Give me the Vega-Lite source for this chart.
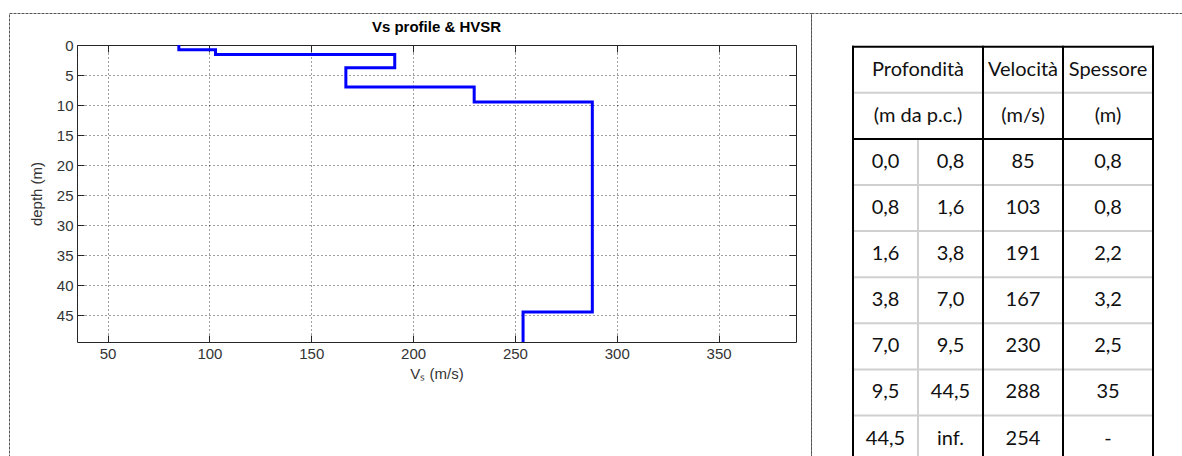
{
  "$schema": "https://vega.github.io/schema/vega-lite/v6.json",
  "background": "white",
  "padding": {"left": 8, "top": 12, "right": 0, "bottom": 0},
  "spacing": 0,
  "bounds": "flush",
  "config": {
    "view": {"stroke": "#555555", "strokeDash": [3, 1], "strokeWidth": 1}
  },
  "datasets": {
    "profilo": [
      {"ordine": 1, "vs": 85, "prof": 0},
      {"ordine": 2, "vs": 85, "prof": 0.8},
      {"ordine": 3, "vs": 103, "prof": 0.8},
      {"ordine": 4, "vs": 103, "prof": 1.6},
      {"ordine": 5, "vs": 191, "prof": 1.6},
      {"ordine": 6, "vs": 191, "prof": 3.8},
      {"ordine": 7, "vs": 167, "prof": 3.8},
      {"ordine": 8, "vs": 167, "prof": 7.0},
      {"ordine": 9, "vs": 230, "prof": 7.0},
      {"ordine": 10, "vs": 230, "prof": 9.5},
      {"ordine": 11, "vs": 288, "prof": 9.5},
      {"ordine": 12, "vs": 288, "prof": 44.5},
      {"ordine": 13, "vs": 254, "prof": 44.5},
      {"ordine": 14, "vs": 254, "prof": 49.5}
    ],
    "intestazione": [
      {"riga": 1, "prof": "Profondità", "vel": "Velocità", "spes": "Spessore"},
      {"riga": 2, "prof": "(m da p.c.)", "vel": "(m/s)", "spes": "(m)"}
    ],
    "strati": [
      {"riga": 3, "da": "0,0", "a": "0,8", "vs": "85", "sp": "0,8"},
      {"riga": 4, "da": "0,8", "a": "1,6", "vs": "103", "sp": "0,8"},
      {"riga": 5, "da": "1,6", "a": "3,8", "vs": "191", "sp": "2,2"},
      {"riga": 6, "da": "3,8", "a": "7,0", "vs": "167", "sp": "3,2"},
      {"riga": 7, "da": "7,0", "a": "9,5", "vs": "230", "sp": "2,5"},
      {"riga": 8, "da": "9,5", "a": "44,5", "vs": "288", "sp": "35"},
      {"riga": 9, "da": "44,5", "a": "inf.", "vs": "254", "sp": "-"}
    ]
  },
  "hconcat": [
    {
      "width": 802,
      "height": 460,
      "title": {
        "text": "Vs profile & HVSR",
        "frame": "group",
        "anchor": "middle",
        "dx": 26.5,
        "offset": -22,
        "font": "Liberation Sans",
        "fontSize": 15,
        "fontWeight": "bold",
        "color": "#000000"
      },
      "layer": [
        {
          "data": {"name": "profilo"},
          "mark": {"type": "line", "color": "#0000ff", "strokeWidth": 3, "clip": true, "strokeJoin": "miter"},
          "encoding": {
            "x": {
              "field": "vs", "type": "quantitative",
              "scale": {"domain": [35, 388], "range": [68, 787], "nice": false, "zero": false},
              "axis": {
                "orient": "bottom", "offset": -131,
                "values": [50, 100, 150, 200, 250, 300, 350],
                "grid": false,
                "domainColor": "#262626", "tickColor": "#262626", "tickSize": -7,
                "labelFont": "Liberation Sans", "labelFontSize": 15, "labelColor": "#333333",
                "labelPadding": 11, "labelFlush": false, "labelOverlap": false,
                "title": "Vₛ (m/s)", "titleFont": "Liberation Sans", "titleFontSize": 15,
                "titleFontWeight": "normal", "titleColor": "#333333", "titlePadding": 5
              }
            },
            "y": {
              "field": "prof", "type": "quantitative",
              "scale": {"domain": [0, 49.5], "range": [32, 329], "nice": false, "zero": false},
              "axis": {
                "orient": "left", "offset": -68,
                "values": [0, 5, 10, 15, 20, 25, 30, 35, 40, 45],
                "grid": true, "gridDash": [1, 3], "gridColor": "#000000", "gridOpacity": 0.75,
                "domainColor": "#262626", "tickColor": "#262626", "tickSize": -7,
                "labelFont": "Liberation Sans", "labelFontSize": 15, "labelColor": "#333333",
                "labelPadding": 11, "labelFlush": false, "labelOverlap": false,
                "title": "depth (m)", "titleFont": "Liberation Sans", "titleFontSize": 15,
                "titleFontWeight": "normal", "titleColor": "#333333", "titlePadding": 12
              }
            },
            "order": {"field": "ordine"}
          }
        },
        {
          "data": {"name": "profilo"},
          "mark": {"type": "point", "opacity": 0},
          "encoding": {
            "x": {
              "field": "vs", "type": "quantitative",
              "axis": {
                "orient": "top", "offset": -32,
                "values": [50, 100, 150, 200, 250, 300, 350],
                "grid": true, "gridDash": [1, 3], "gridColor": "#000000", "gridOpacity": 0.75,
                "labels": false, "title": null,
                "domainColor": "#262626", "tickColor": "#262626", "tickSize": -7
              }
            },
            "y": {
              "field": "prof", "type": "quantitative",
              "axis": {
                "orient": "right", "offset": -15,
                "values": [0, 5, 10, 15, 20, 25, 30, 35, 40, 45],
                "grid": false, "labels": false, "title": null,
                "domainColor": "#262626", "tickColor": "#262626", "tickSize": -7
              }
            }
          }
        }
      ],
      "resolve": {"axis": {"x": "independent", "y": "independent"}}
    },
    {
      "width": 390,
      "height": 460,
      "layer": [
        {
          "data": {"values": [{}]},
          "mark": {"type": "rule", "color": "#d0d0d0", "strokeWidth": 2},
          "encoding": {
            "x": {"datum": 0.5, "type": "quantitative", "axis": null,
                  "scale": {"domain": [0.5, 1.5, 2.5, 3.5, 4.5], "range": [42, 107, 172, 252, 342], "nice": false, "zero": false}},
            "x2": {"datum": 4.5},
            "y": {"datum": 1.5, "type": "quantitative", "axis": null,
                  "scale": {"domain": [0.5, 9.5], "range": [33.7, 448.6], "nice": false, "zero": false}}
          }
        },
        {
          "data": {"values": [{}]},
          "mark": {"type": "rule", "color": "#d0d0d0", "strokeWidth": 2},
          "encoding": {"x": {"datum": 0.5, "type": "quantitative", "axis": null}, "x2": {"datum": 4.5}, "y": {"datum": 3.5, "type": "quantitative", "axis": null}}
        },
        {
          "data": {"values": [{}]},
          "mark": {"type": "rule", "color": "#d0d0d0", "strokeWidth": 2},
          "encoding": {"x": {"datum": 0.5, "type": "quantitative", "axis": null}, "x2": {"datum": 4.5}, "y": {"datum": 4.5, "type": "quantitative", "axis": null}}
        },
        {
          "data": {"values": [{}]},
          "mark": {"type": "rule", "color": "#d0d0d0", "strokeWidth": 2},
          "encoding": {"x": {"datum": 0.5, "type": "quantitative", "axis": null}, "x2": {"datum": 4.5}, "y": {"datum": 5.5, "type": "quantitative", "axis": null}}
        },
        {
          "data": {"values": [{}]},
          "mark": {"type": "rule", "color": "#d0d0d0", "strokeWidth": 2},
          "encoding": {"x": {"datum": 0.5, "type": "quantitative", "axis": null}, "x2": {"datum": 4.5}, "y": {"datum": 6.5, "type": "quantitative", "axis": null}}
        },
        {
          "data": {"values": [{}]},
          "mark": {"type": "rule", "color": "#d0d0d0", "strokeWidth": 2},
          "encoding": {"x": {"datum": 0.5, "type": "quantitative", "axis": null}, "x2": {"datum": 4.5}, "y": {"datum": 7.5, "type": "quantitative", "axis": null}}
        },
        {
          "data": {"values": [{}]},
          "mark": {"type": "rule", "color": "#d0d0d0", "strokeWidth": 2},
          "encoding": {"x": {"datum": 0.5, "type": "quantitative", "axis": null}, "x2": {"datum": 4.5}, "y": {"datum": 8.5, "type": "quantitative", "axis": null}}
        },
        {
          "data": {"values": [{}]},
          "mark": {"type": "rule", "color": "#d0d0d0", "strokeWidth": 2},
          "encoding": {"x": {"datum": 1.5, "type": "quantitative", "axis": null}, "y": {"datum": 2.5, "type": "quantitative", "axis": null}, "y2": {"datum": 9.5}}
        },
        {
          "data": {"values": [{}]},
          "mark": {"type": "rule", "color": "#000000", "strokeWidth": 2, "strokeCap": "square"},
          "encoding": {"x": {"datum": 0.5, "type": "quantitative", "axis": null}, "x2": {"datum": 4.5}, "y": {"datum": 0.5, "type": "quantitative", "axis": null}}
        },
        {
          "data": {"values": [{}]},
          "mark": {"type": "rule", "color": "#000000", "strokeWidth": 2, "strokeCap": "square"},
          "encoding": {"x": {"datum": 0.5, "type": "quantitative", "axis": null}, "x2": {"datum": 4.5}, "y": {"datum": 2.5, "type": "quantitative", "axis": null}}
        },
        {
          "data": {"values": [{}]},
          "mark": {"type": "rule", "color": "#000000", "strokeWidth": 2, "strokeCap": "square"},
          "encoding": {"x": {"datum": 0.5, "type": "quantitative", "axis": null}, "y": {"datum": 0.5, "type": "quantitative", "axis": null}, "y2": {"datum": 9.5}}
        },
        {
          "data": {"values": [{}]},
          "mark": {"type": "rule", "color": "#000000", "strokeWidth": 2, "strokeCap": "square"},
          "encoding": {"x": {"datum": 2.5, "type": "quantitative", "axis": null}, "y": {"datum": 0.5, "type": "quantitative", "axis": null}, "y2": {"datum": 9.5}}
        },
        {
          "data": {"values": [{}]},
          "mark": {"type": "rule", "color": "#000000", "strokeWidth": 2, "strokeCap": "square"},
          "encoding": {"x": {"datum": 3.5, "type": "quantitative", "axis": null}, "y": {"datum": 0.5, "type": "quantitative", "axis": null}, "y2": {"datum": 9.5}}
        },
        {
          "data": {"values": [{}]},
          "mark": {"type": "rule", "color": "#000000", "strokeWidth": 2, "strokeCap": "square"},
          "encoding": {"x": {"datum": 4.5, "type": "quantitative", "axis": null}, "y": {"datum": 0.5, "type": "quantitative", "axis": null}, "y2": {"datum": 9.5}}
        },
        {
          "data": {"name": "strati"},
          "mark": {"type": "text", "font": "Lato", "fontSize": 20, "color": "#111111", "align": "center", "baseline": "middle"},
          "encoding": {
            "x": {"datum": 1, "type": "quantitative", "axis": null},
            "y": {"field": "riga", "type": "quantitative", "axis": null},
            "text": {"field": "da"}
          }
        },
        {
          "data": {"name": "strati"},
          "mark": {"type": "text", "font": "Lato", "fontSize": 20, "color": "#111111", "align": "center", "baseline": "middle"},
          "encoding": {
            "x": {"datum": 2, "type": "quantitative", "axis": null},
            "y": {"field": "riga", "type": "quantitative", "axis": null},
            "text": {"field": "a"}
          }
        },
        {
          "data": {"name": "strati"},
          "mark": {"type": "text", "font": "Lato", "fontSize": 20, "color": "#111111", "align": "center", "baseline": "middle"},
          "encoding": {
            "x": {"datum": 3, "type": "quantitative", "axis": null},
            "y": {"field": "riga", "type": "quantitative", "axis": null},
            "text": {"field": "vs"}
          }
        },
        {
          "data": {"name": "strati"},
          "mark": {"type": "text", "font": "Lato", "fontSize": 20, "color": "#111111", "align": "center", "baseline": "middle"},
          "encoding": {
            "x": {"datum": 4, "type": "quantitative", "axis": null},
            "y": {"field": "riga", "type": "quantitative", "axis": null},
            "text": {"field": "sp"}
          }
        },
        {
          "data": {"name": "intestazione"},
          "mark": {"type": "text", "font": "Lato", "fontSize": 20, "color": "#111111", "align": "center", "baseline": "middle"},
          "encoding": {
            "x": {"datum": 1.5, "type": "quantitative", "axis": null},
            "y": {"field": "riga", "type": "quantitative", "axis": null},
            "text": {"field": "prof"}
          }
        },
        {
          "data": {"name": "intestazione"},
          "mark": {"type": "text", "font": "Lato", "fontSize": 20, "color": "#111111", "align": "center", "baseline": "middle"},
          "encoding": {
            "x": {"datum": 3, "type": "quantitative", "axis": null},
            "y": {"field": "riga", "type": "quantitative", "axis": null},
            "text": {"field": "vel"}
          }
        },
        {
          "data": {"name": "intestazione"},
          "mark": {"type": "text", "font": "Lato", "fontSize": 20, "color": "#111111", "align": "center", "baseline": "middle"},
          "encoding": {
            "x": {"datum": 4, "type": "quantitative", "axis": null},
            "y": {"field": "riga", "type": "quantitative", "axis": null},
            "text": {"field": "spes"}
          }
        }
      ]
    }
  ]
}
